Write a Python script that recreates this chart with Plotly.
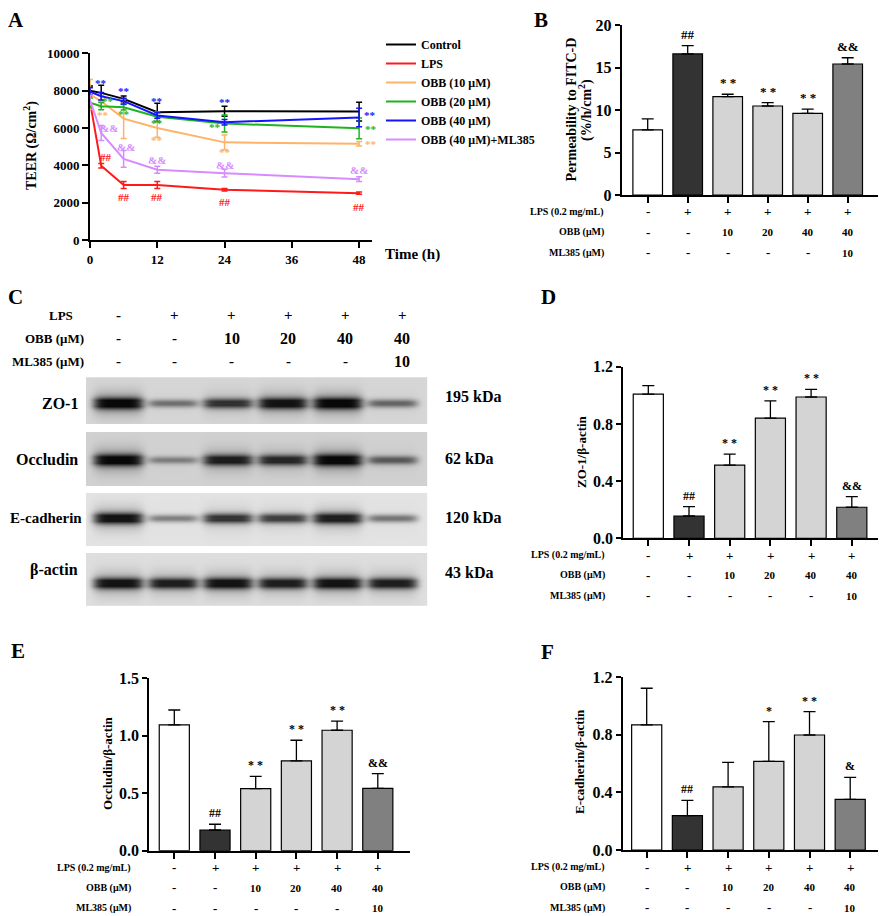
import numpy as np
import plotly.graph_objects as go

W, H = 886, 916
OFF = 8  # the page puts the figure 8 px in from its top-left corner
FONT = "Liberation Serif"

# ---------------- data ----------------
# panel A: TEER over time
time_h = [0, 2, 6, 12, 24, 48]
teer_names = ["Control", "LPS", "OBB (10 μM)", "OBB (20 μM)", "OBB (40 μM)", "OBB (40 μM)+ML385"]
teer_control = [8000, 7880, 7560, 6840, 6900, 6880]
teer_control_err = [250, 410, 150, 490, 270, 500]
teer_lps = [7400, 3980, 2950, 2950, 2690, 2510]
teer_lps_err = [300, 120, 190, 190, 70, 60]
teer_obb10 = [7800, 7430, 6500, 6000, 5230, 5160]
teer_obb10_err = [800, 300, 1070, 500, 400, 120]
teer_obb20 = [7350, 7170, 7110, 6600, 6240, 5980]
teer_obb20_err = [250, 200, 150, 250, 450, 560]
teer_obb40 = [7950, 7700, 7440, 6670, 6310, 6560]
teer_obb40_err = [200, 200, 150, 150, 150, 500]
teer_ml385 = [7500, 5730, 4340, 3760, 3580, 3260]
teer_ml385_err = [250, 400, 450, 190, 210, 130]

# significance marks for panel A (one list per group, per time point)
sig_control = ["", "", "", "", "", ""]
sig_lps = ["", "##", "##", "##", "##", "##"]
sig_obb10 = ["", "**", "", "**", "**", "**"]
sig_obb20 = ["", "**", "**", "**", "**", "**"]
sig_obb40 = ["", "**", "**", "**", "**", "**"]
sig_ml385 = ["", "&&", "&&", "&&", "&&", "&&"]

# bar panels: treatment conditions
lps_row = ["-", "+", "+", "+", "+", "+"]
obb_row = ["-", "-", "10", "20", "40", "40"]
ml385_row = ["-", "-", "-", "-", "-", "10"]

# panel B: FITC-D permeability
perm = [7.65, 16.6, 11.57, 10.47, 9.61, 15.41]
perm_err = [1.3, 0.97, 0.28, 0.39, 0.5, 0.74]
perm_sig = ["", "##", "* *", "* *", "* *", "&&"]

# panel D: ZO-1/beta-actin
zo1 = [1.008, 0.156, 0.512, 0.841, 0.988, 0.217]
zo1_err = [0.06, 0.065, 0.077, 0.12, 0.054, 0.074]
zo1_sig = ["", "##", "* *", "* *", "* *", "&&"]

# panel E: Occludin/beta-actin
occ = [1.094, 0.180, 0.540, 0.781, 1.048, 0.543]
occ_err = [0.13, 0.05, 0.107, 0.18, 0.08, 0.127]
occ_sig = ["", "##", "* *", "* *", "* *", "&&"]

# panel F: E-cadherin/beta-actin
ecad = [0.869, 0.239, 0.438, 0.616, 0.799, 0.352]
ecad_err = [0.255, 0.106, 0.171, 0.276, 0.162, 0.153]
ecad_sig = ["", "##", "", "*", "* *", "&"]

# panel C: western blot band strength per lane (0-1, read by eye)
blot_proteins = ["ZO-1", "Occludin", "E-cadherin", "β-actin"]
blot_kda = ["195 kDa", "62 kDa", "120 kDa", "43 kDa"]
band_zo1 = [1.0, 0.5, 0.8, 0.95, 1.0, 0.55]
band_occ = [1.0, 0.42, 0.9, 0.85, 1.0, 0.6]
band_ecad = [0.95, 0.45, 0.8, 0.75, 0.9, 0.5]
band_actin = [0.95, 0.9, 0.95, 0.9, 0.95, 0.9]

# ---------------- style ----------------
line_colors = ["#000000", "#ff1a1a", "#ffb366", "#1fb31f", "#1414ff", "#d68cff"]
bar_colors = ["#ffffff", "#333333", "#d4d4d4", "#d4d4d4", "#d4d4d4", "#808080"]


def px(x):
    return (x - OFF) / W


def py(y):
    return 1 - (y - OFF) / H


def bfont(size, color="black"):
    return dict(family=FONT, size=size, color=color, weight="bold")


def note(x, y, text, size, xanchor="center", angle=0, color="black", xref="paper", **kw):
    return dict(x=x, y=y, xref=xref, yref=kw.pop("yref", "paper"), text=text, showarrow=False,
                xanchor=xanchor, yanchor=kw.pop("yanchor", "middle"), textangle=angle,
                font=bfont(size, color), **kw)


fig = go.Figure()
annotations = []

# ---------------- panel A ----------------
teer_vals = [teer_control, teer_lps, teer_obb10, teer_obb20, teer_obb40, teer_ml385]
teer_errs = [teer_control_err, teer_lps_err, teer_obb10_err, teer_obb20_err, teer_obb40_err, teer_ml385_err]
teer_sigs = [sig_control, sig_lps, sig_obb10, sig_obb20, sig_obb40, sig_ml385]
# pixel offsets of each mark from its point
sig_shift = [
    [(0, 0)] * 6,
    [(0, 0), (5, 9), (0, -12), (0, -12), (0, -12), (0, -14)],
    [(0, 0), (2, -14), (0, 0), (0, -12), (0, -10), (12, 0)],
    [(0, 0), (7, 5), (0, -7), (0, -6), (-10, -4), (12, -1)],
    [(0, 0), (0, 13), (0, 10), (0, 14), (0, 20), (11, 3)],
    [(0, 0), (8, 5), (2, 12), (0, 10), (0, 8), (0, 9)],
]
for name, vals, errs, col in zip(teer_names, teer_vals, teer_errs, line_colors):
    fig.add_trace(go.Scatter(
        x=time_h, y=vals, mode="lines", name=name,
        line=dict(color=col, width=2),
        error_y=dict(type="data", array=errs, color=col, thickness=1.5, width=3),
        cliponaxis=False, hoverinfo="skip", xaxis="x", yaxis="y",
    ))
for vals, sigs, shifts, col in zip(teer_vals, teer_sigs, sig_shift, line_colors):
    for t, v, s, (dx, dy) in zip(time_h, vals, sigs, shifts):
        if s:
            annotations.append(note(t, v, s, 11, color=col, xref="x", yref="y",
                                    xshift=dx, yshift=dy))

axis_common = dict(showline=True, linecolor="black", linewidth=2, ticks="outside",
                   tickcolor="black", tickwidth=2, showgrid=False, zeroline=False,
                   fixedrange=True, automargin=False)

layout_axes = dict(
    xaxis=dict(domain=[px(90), px(372)], range=[0, 50.3], tickvals=[0, 12, 24, 36, 48],
               ticklen=6, tickfont=bfont(13), anchor="y", **axis_common),
    yaxis=dict(domain=[py(240), py(53.3)], range=[0, 10000], dtick=2000, tickformat="d",
               ticklen=6, tickfont=bfont(13), anchor="x", **axis_common),
)
annotations += [
    note(px(383), py(254), "Time (h)", 15, xanchor="left"),
    note(px(31), py(146), "TEER (Ω/cm<sup>2</sup>)", 14, angle=-90),
]


# ---------------- bar panels ----------------
def bar_panel(n, values, errors, sigs, x_px, top_px, bottom_px, c0_px, right_px,
              yrange, dtick, tickfmt, tick_size, sig_size):
    step = 40.7 if n != 2 else 40.0
    r0 = -(c0_px - x_px) / step
    r1 = (right_px - c0_px) / step
    xa, ya = f"x{n}", f"y{n}"
    fig.add_trace(go.Bar(
        x=list(range(6)), y=values, width=0.74,
        marker=dict(color=bar_colors, line=dict(color="black", width=1.2)),
        error_y=dict(type="data", symmetric=False, array=errors, arrayminus=[0] * 6,
                     color="black", thickness=1.3, width=6),
        showlegend=False, hoverinfo="skip", xaxis=xa, yaxis=ya,
    ))
    layout_axes[f"xaxis{n}"] = dict(domain=[px(x_px), px(right_px)], range=[r0, r1],
                                    tickvals=list(range(6)), showticklabels=False, ticklen=6,
                                    anchor=ya, **axis_common)
    layout_axes[f"yaxis{n}"] = dict(domain=[py(bottom_px), py(top_px)], range=yrange,
                                    dtick=dtick, tickformat=tickfmt, ticklen=5,
                                    tickfont=bfont(tick_size), anchor=xa, **axis_common)
    for i, (v, e, s) in enumerate(zip(values, errors, sigs)):
        if s:
            annotations.append(note(i, v + e, s, sig_size, xref=xa, yref=ya,
                                    yanchor="bottom", yshift=2))
    rows = [("LPS (0.2 mg/mL)", lps_row, 17), ("OBB (μM)", obb_row, 37),
            ("ML385 (μM)", ml385_row, 57.5)]
    for label, row, dy in rows:
        annotations.append(note(px(x_px - 16), py(bottom_px + dy), label, 10, xanchor="right"))
        for i, val in enumerate(row):
            annotations.append(note(i, py(bottom_px + dy), val, 13 if val in "+-" else 11,
                                    xref=xa))


bar_panel(2, perm, perm_err, perm_sig, 621.7, 25, 195, 647.7, 886, [0, 20], 5, "d", 16, 13)
bar_panel(3, zo1, zo1_err, zo1_sig, 623.3, 366.7, 538.3, 648.3, 885, [0, 1.2], 0.4, ".1f", 16, 12)
bar_panel(4, occ, occ_err, occ_sig, 149.3, 678.3, 850.7, 174.3, 410, [0, 1.5], 0.5, ".1f", 16, 12)
bar_panel(5, ecad, ecad_err, ecad_sig, 622.7, 677.3, 850, 646.7, 886, [0, 1.2], 0.4, ".1f", 16, 12)

annotations += [
    note(px(571.5), py(110), "Permeability to FITC-D", 14, angle=-90),
    note(px(586), py(110), "(%/h/cm<sup>2</sup>)", 14, angle=-90),
    note(px(581), py(452), "ZO-1/β-actin", 13, angle=-90),
    note(px(107), py(763), "Occludin/β-actin", 13, angle=-90),
    note(px(579), py(762), "E-cadherin/β-actin", 13, angle=-90),
]

# ---------------- panel C: western blot ----------------
lane_px = 54.8
x_left, x_right = -0.584, 5.644
xs = np.arange(x_left, x_right, 1 / lane_px)
ys = np.arange(0, 229.0, 1.0)
Z = np.full((len(ys), len(xs)), np.nan)
# strip top, bottom, band centre (px from blot top) and background darkness
strips = [(0, 46.7, 26, 0.16), (55, 108.7, 82.7, 0.18), (115.4, 168.4, 141, 0.11),
          (176, 228.7, 206, 0.13)]
for (top, bot, cen, bg), band in zip(strips, [band_zo1, band_occ, band_ecad, band_actin]):
    rows = (ys >= top) & (ys <= bot)
    yy = ys[rows][:, None]
    d = np.full((rows.sum(), len(xs)), bg)
    for i, a in enumerate(band):
        hx = np.exp(-np.abs((xs - i) / 0.46) ** 6)[None, :]
        core = np.exp(-((yy - cen) / (2.5 + 3.0 * a)) ** 2)
        halo = 0.3 * a ** 3 * np.exp(-((yy - cen) / 13) ** 2)
        d = d + (0.97 - bg) * a * hx * np.clip(core + halo, 0, 1)
    Z[rows] = np.clip(d, 0, 1)

fig.add_trace(go.Heatmap(
    x=np.round(xs, 4), y=ys, z=np.round(Z, 3), zmin=0, zmax=1,
    colorscale=[[0, "#ffffff"], [1, "#000000"]], showscale=False, hoverinfo="skip",
    xaxis="x6", yaxis="y6",
))
layout_axes["xaxis6"] = dict(domain=[px(86), px(427.3)], range=[x_left, x_right], visible=False,
                             anchor="y6", fixedrange=True)
layout_axes["yaxis6"] = dict(domain=[py(606), py(377.3)], range=[228.7, 0], visible=False,
                             anchor="x6", fixedrange=True)

blot_label_y = [403, 460, 518, 570]
kda_y = [397, 459, 517, 572]
for name, kda, yl, yk in zip(blot_proteins, blot_kda, blot_label_y, kda_y):
    big = name != "E-cadherin"
    annotations.append(note(px(80 if big else 84), py(yl), name, 16 if big else 15,
                            xanchor="right"))
    annotations.append(note(px(443), py(yk), kda, 16, xanchor="left"))

header = [("LPS", lps_row, 315, 75), ("OBB (μM)", obb_row, 338, 86),
          ("ML385 (μM)", ml385_row, 361, 86)]
for label, row, yh, xr in header:
    annotations.append(note(px(xr), py(yh), label, 13, xanchor="right"))
    for i, val in enumerate(row):
        annotations.append(note(i, py(yh), val, 15 if val in "+-" else 16, xref="x6",
                                xshift=2 * i))

# panel letters
for letter, lx, ly in [("A", 16, 20), ("B", 541, 20), ("C", 16, 297), ("D", 548, 297),
                       ("E", 18, 651), ("F", 547, 652)]:
    annotations.append(note(px(lx), py(ly), letter, 21))

fig.update_layout(
    width=W, height=H, autosize=False,
    margin=dict(l=0, r=0, t=0, b=0, pad=0, autoexpand=False),
    paper_bgcolor="white", plot_bgcolor="rgba(0,0,0,0)",
    font=dict(family=FONT, color="black"),
    showlegend=True,
    legend=dict(x=px(381), y=py(30), xanchor="left", yanchor="top", font=bfont(12),
                bgcolor="rgba(0,0,0,0)", tracegroupgap=0, itemwidth=30),
    annotations=annotations,
    **layout_axes,
)

fig.write_html("out.html")
